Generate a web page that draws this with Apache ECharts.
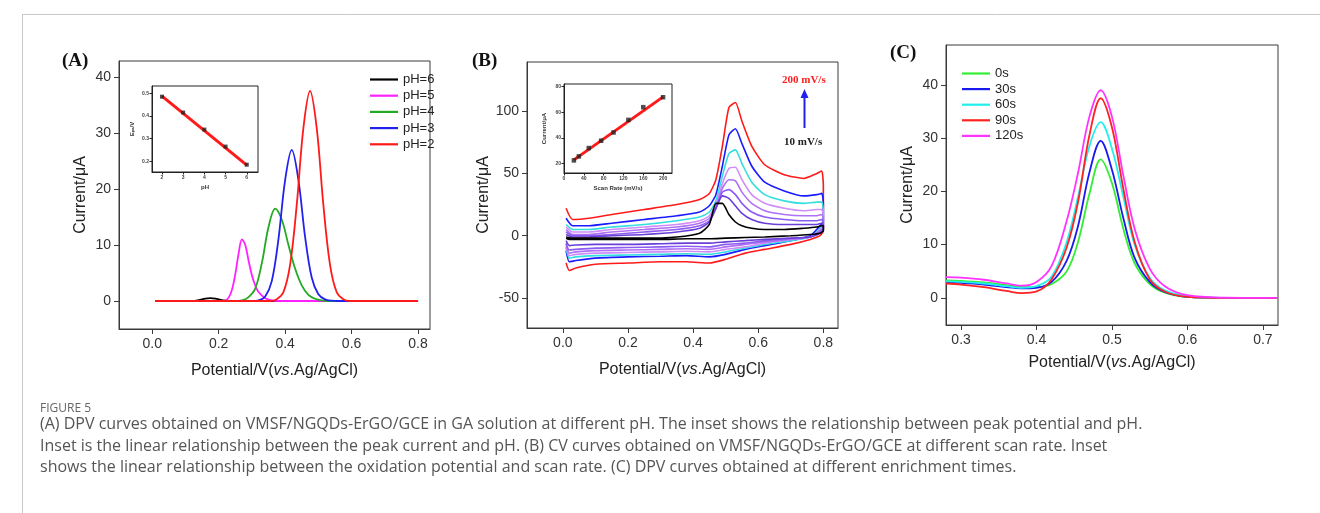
<!DOCTYPE html>
<html><head><meta charset="utf-8">
<script src="https://cdn.jsdelivr.net/npm/echarts@6/dist/echarts.min.js"></script>
<style>html,body{margin:0;padding:0;background:#fff}#c{width:1320px;height:513px}</style>
</head><body><div id="c"></div>
<script>
// ---------- Panel A : DPV at different pH ----------
const phLabels = ['pH=6','pH=5','pH=4','pH=3','pH=2'];
const phColors = ['#000000','#ff22ff','#22aa22','#2222ee','#ff1a1a'];
const dpvPH6 = [[0.01,0],[0.12,0],[0.14,0.15],[0.16,0.42],[0.175,0.5],[0.19,0.42],[0.21,0.15],[0.23,0],[0.8,0]];
const dpvPH5 = [[0.01,0],[0.20,0],[0.22,0.1],[0.23,0.6],[0.24,2.0],[0.25,4.8],[0.26,8.5],[0.27,11],[0.28,10],[0.29,7.2],[0.30,4.6],[0.31,2.8],[0.32,1.6],[0.34,0.5],[0.36,0.1],[0.38,0],[0.8,0]];
const dpvPH4 = [[0.01,0],[0.25,0],[0.27,0.1],[0.29,0.7],[0.31,2.2],[0.33,6.8],[0.35,13.2],[0.37,16.5],[0.39,14.5],[0.41,10],[0.43,5.8],[0.45,2.8],[0.47,1.1],[0.49,0.4],[0.51,0.1],[0.53,0],[0.8,0]];
const dpvPH3 = [[0.01,0],[0.30,0],[0.32,0.1],[0.34,0.8],[0.36,3.6],[0.38,11.1],[0.40,21.6],[0.42,27],[0.44,21.6],[0.46,11.5],[0.48,4.2],[0.50,1.2],[0.52,0.3],[0.54,0.05],[0.56,0],[0.8,0]];
const dpvPH2 = [[0.01,0],[0.355,0],[0.375,0.3],[0.395,1.6],[0.415,6.5],[0.435,17.2],[0.455,30.9],[0.475,37.5],[0.495,30.9],[0.515,17.2],[0.535,6.5],[0.555,1.6],[0.575,0.3],[0.595,0],[0.8,0]];
const insetPH = [2,3,4,5,6];
const insetEpa = [0.485,0.415,0.34,0.265,0.185];
const insetEpaFit = [0.487,0.183];        // fitted line at pH 2 and pH 6

// ---------- Panel B : CV at different scan rates ----------
const cvNames = ['10 mV/s','20 mV/s','50 mV/s','75 mV/s','100 mV/s','130 mV/s','160 mV/s','200 mV/s'];
const cvColors = ['#000000','#6a3fd8','#8d5cf0','#b070f5','#d08cf7','#33dede','#1a1aff','#ff1a1a'];
const cvUpX   = [0.01,0.03,0.08,0.15,0.25,0.35,0.42,0.45,0.47,0.49,0.51,0.53,0.55,0.58,0.62,0.68,0.74,0.78,0.795,0.80];
const cvDownX = [0.80,0.79,0.76,0.70,0.62,0.56,0.50,0.45,0.38,0.30,0.20,0.10,0.04,0.02,0.01];
const cvUp10   = [-1,-2,-2,-2,-2,-1,2,9,26,26,17,11,8,6,5,5,6,7,8,8];
const cvDown10 = [4,2,1,0,-1,-1.5,-2,-2.5,-2.5,-3,-3,-3,-3,-3,-2];
const cvUp20   = [1,-1,-1,0,1,3,6,11,22,32,30,24,18,13,10,9,9,9,10,8];
const cvDown20 = [5,2,-1,-2,-3,-4,-5,-6,-6,-6.5,-7,-7,-7.5,-8,-4];
const cvUp50   = [3,0,0,1,3,5,8,12,22,35,37,33,26,19,15,13,12,12,13,10];
const cvDown50 = [6,3,-1,-2,-4,-6,-7,-9,-8.5,-9,-9.5,-10,-11,-11.5,-6];
const cvUp75   = [5,1,1,3,5,7,10,14,23,38,45,44,35,26,20,17,16,16,17,13];
const cvDown75 = [7,4,-1,-3,-5,-7,-9,-11,-10.5,-11,-11.5,-12,-13,-14,-7];
const cvUp100   = [7,3,3,5,7,9,12,16,25,42,54,55,45,33,26,22,20,21,21,16];
const cvDown100 = [9,5,-1,-3,-6,-9,-11,-13,-12.5,-13,-13.5,-14,-15,-16,-9];
const cvUp130   = [9,5,5,7,9,12,15,19,28,48,66,69,58,43,33,28,26,27,27,20];
const cvDown130 = [10,6,-1,-4,-7,-10,-13,-15,-14.5,-15,-15.5,-16,-17,-18,-10];
const cvUp160   = [14,8,8,10,13,16,19,24,33,56,81,86,74,56,43,36,32,33,34,26];
const cvDown160 = [12,8,0,-4,-8,-11,-15,-17,-16,-16.5,-17,-18,-20,-21,-12];
const cvUp200   = [22,13,14,17,21,25,29,34,45,72,103,107,92,72,57,49,46,50,52,40];
const cvDown200 = [4,0,-3,-7,-11,-14,-19,-22,-21,-21,-22,-23,-26,-28,-22];
const cvUps   = [cvUp10,cvUp20,cvUp50,cvUp75,cvUp100,cvUp130,cvUp160,cvUp200];
const cvDowns = [cvDown10,cvDown20,cvDown50,cvDown75,cvDown100,cvDown130,cvDown160,cvDown200];
const insetRate = [20,30,50,75,100,130,160,200];
const insetIpa  = [22.6,25.7,32.2,37.9,44.3,54.1,64,71.7];
const insetIpaFit = [23,72];               // fitted line at 20 and 200 mV/s

// ---------- Panel C : DPV at different enrichment times ----------
const timeLabels = ['0s','30s','60s','90s','120s'];
const timeColors = ['#33ee33','#1a1aee','#22eeee','#ff2222','#ff33ff'];
const potC = [0.28,0.30,0.33,0.36,0.38,0.40,0.42,0.44,0.455,0.47,0.485,0.50,0.515,0.53,0.55,0.57,0.60,0.65,0.72];
const cur0s   = [3.3,3.2,2.9,2.4,2.1,2.0,2.6,5.0,10.5,19.5,26,21.5,13,6.5,2.6,1.0,0.2,0,0];
const cur30s  = [2.9,2.8,2.5,2.0,1.8,1.9,3.0,7.0,13.5,23.5,29.5,24,15,7.5,3,1.1,0.2,0,0];
const cur60s  = [3.1,3.0,2.7,2.2,1.9,2.2,4.0,10.5,19,28.5,33,28,19,10,3.8,1.4,0.3,0,0];
const cur90s  = [2.7,2.5,2.0,1.3,0.9,1.2,3.5,9.5,18,30.5,37.5,32,20.5,10.5,3.5,1.2,0.2,0,0];
const cur120s = [3.9,3.8,3.4,2.7,2.3,3.0,6.0,14.5,23.5,34,39,34,23,13,5.5,2.2,0.5,0.05,0];
const curC = [cur0s,cur30s,cur60s,cur90s,cur120s];

// ---------- tick labels ----------
const ticksA_x = [0,0.2,0.4,0.6,0.8], ticksA_y = [0,10,20,30,40];
const ticksB_x = [0,0.2,0.4,0.6,0.8], ticksB_y = [-50,0,50,100];
const ticksC_x = [0.3,0.4,0.5,0.6,0.7], ticksC_y = [0,10,20,30,40];
const ticksAi_x = [2,3,4,5,6], ticksAi_y = [0.2,0.3,0.4,0.5];
const ticksBi_x = [0,40,80,120,160,200], ticksBi_y = [20,40,60,80];

const FF = '"Liberation Sans", Arial, sans-serif';
const axisCol = '#3a3a3a';

function mainX(idx, min, max, ticks, nameGap){
  return {gridIndex: idx, type:'value', min, max,
    name:'Potential/V({i|vs}.Ag/AgCl)', nameLocation:'middle', nameGap,
    nameTextStyle:{fontSize:16, color:'#222', fontFamily:FF, rich:{i:{fontStyle:'italic', fontSize:16, color:'#222', fontFamily:FF}}},
    axisLine:{onZero:false, lineStyle:{color:axisCol, width:1}},
    axisTick:{customValues:ticks, inside:false, length:5, lineStyle:{color:axisCol}},
    axisLabel:{customValues:ticks, formatter:v=>v.toFixed(1), fontSize:14, color:'#333', fontFamily:FF, margin:8},
    splitLine:{show:false}};
}
function mainY(idx, min, max, ticks, nameGap){
  return {gridIndex: idx, type:'value', min, max,
    name:'Current/μA', nameLocation:'middle', nameGap,
    nameTextStyle:{fontSize:16, color:'#222', fontFamily:FF},
    axisLine:{show:true, onZero:false, lineStyle:{color:axisCol, width:1}},
    axisTick:{show:true, customValues:ticks, inside:false, length:5, lineStyle:{color:axisCol}},
    axisLabel:{customValues:ticks, formatter:v=>String(v), fontSize:14, color:'#333', fontFamily:FF, margin:8},
    splitLine:{show:false}};
}
function insetAxis(idx, min, max, ticks, fmt, name, isY){
  return {gridIndex: idx, type:'value', min, max,
    name, nameLocation:'middle', nameGap: isY?17:12,
    nameTextStyle:{fontSize:6, fontWeight:'bold', color:'#333', fontFamily:FF, rich:{s:{fontSize:4, fontWeight:'bold', verticalAlign:'bottom', color:'#333'}}},
    axisLine:{show:true, onZero:false, lineStyle:{color:'#222', width:1}},
    axisTick:{show:true, customValues:ticks, inside:false, length:2.5, lineStyle:{color:'#222'}},
    axisLabel:{customValues:ticks, formatter:fmt, fontSize:5, fontWeight:'bold', color:'#444', fontFamily:FF, margin:3},
    splitLine:{show:false}};
}

const series = [];
const dpvA = [dpvPH6,dpvPH5,dpvPH4,dpvPH3,dpvPH2];
dpvA.forEach((d,i)=>series.push({name:phLabels[i], type:'line', xAxisIndex:0, yAxisIndex:0, data:d,
  smooth:0.35, showSymbol:false, lineStyle:{color:phColors[i], width:1.8}, itemStyle:{color:phColors[i]}, z:3+i}));
series.push({type:'line', xAxisIndex:1, yAxisIndex:1, data:[[insetPH[0],insetEpaFit[0]],[insetPH[4],insetEpaFit[1]]],
  showSymbol:false, lineStyle:{color:'#ff1a1a', width:3}, z:5});
series.push({type:'scatter', xAxisIndex:1, yAxisIndex:1, data:insetPH.map((x,i)=>[x,insetEpa[i]]),
  symbol:'rect', symbolSize:4, itemStyle:{color:'#222'}, z:6});

cvUps.forEach((u,i)=>{
  const d = cvUpX.map((x,k)=>[x,u[k]]).concat(cvDownX.map((x,k)=>[x,cvDowns[i][k]]));
  series.push({name:cvNames[i], type:'line', xAxisIndex:2, yAxisIndex:2, data:d, smooth:0.2, showSymbol:false,
    lineStyle:{color:cvColors[i], width:1.6}, z:10-i});
});
series.push({type:'line', xAxisIndex:3, yAxisIndex:3, data:[[insetRate[0],insetIpaFit[0]],[insetRate[7],insetIpaFit[1]]],
  showSymbol:false, lineStyle:{color:'#ff1a1a', width:3}, z:5});
series.push({type:'scatter', xAxisIndex:3, yAxisIndex:3, data:insetRate.map((x,i)=>[x,insetIpa[i]]),
  symbol:'rect', symbolSize:4.5, itemStyle:{color:'#222'}, z:6});

curC.forEach((c,i)=>series.push({name:timeLabels[i], type:'line', xAxisIndex:4, yAxisIndex:4,
  data:potC.map((x,k)=>[x,c[k]]), smooth:0.35, showSymbol:false, lineStyle:{color:timeColors[i], width:1.8},
  itemStyle:{color:timeColors[i]}, z:3+i}));

const legendBase = {orient:'vertical', icon:'rect', itemWidth:28, itemHeight:2.2, padding:0,
  textStyle:{fontSize:13, color:'#222', fontFamily:FF}, selectedMode:false};

const option = {
  animation:false,
  backgroundColor:'#fff',
  grid:[
    {left:119, top:61, width:311, height:268, show:true, borderColor:axisCol, borderWidth:1, backgroundColor:'transparent'},
    {left:152, top:86, width:106, height:86, show:true, borderColor:'#222', borderWidth:1, backgroundColor:'transparent'},
    {left:527, top:62, width:311, height:266, show:true, borderColor:axisCol, borderWidth:1, backgroundColor:'transparent'},
    {left:564, top:84, width:108, height:89, show:true, borderColor:'#222', borderWidth:1, backgroundColor:'transparent'},
    {left:946, top:45, width:332, height:280, show:true, borderColor:axisCol, borderWidth:1, backgroundColor:'transparent'}
  ],
  xAxis:[
    mainX(0,-0.1,0.836,ticksA_x,34),
    insetAxis(1,1.53,6.53,ticksAi_x,v=>String(v),'pH',false),
    mainX(2,-0.11,0.845,ticksB_x,34),
    insetAxis(3,0,218,ticksBi_x,v=>String(v),'Scan Rate (mV/s)',false),
    mainX(4,0.28,0.72,ticksC_x,30)
  ],
  yAxis:[
    mainY(0,-5,42.86,ticksA_y,30),
    insetAxis(1,0.153,0.532,ticksAi_y,v=>v.toFixed(1),'E{s|pa}/V',true),
    mainY(2,-74.2,139.6,ticksB_y,32),
    insetAxis(3,12.8,82,ticksBi_y,v=>String(v),'Current/μA',true),
    mainY(4,-5.1,47.5,ticksC_y,30)
  ],
  legend:[
    Object.assign({}, legendBase, {data:phLabels, left:370, top:73, itemGap:3.2}),
    Object.assign({}, legendBase, {data:timeLabels, left:962, top:67, itemGap:2.6})
  ],
  series,
  graphic:[
    {type:'line', shape:{x1:22,y1:14.5,x2:1320,y2:14.5}, style:{stroke:'#c8c8c8', lineWidth:1}, silent:true},
    {type:'line', shape:{x1:22.5,y1:14,x2:22.5,y2:513}, style:{stroke:'#c8c8c8', lineWidth:1}, silent:true},
    {type:'text', left:62, top:52, style:{text:'(A)', font:'bold 19px "Liberation Serif", "DejaVu Serif", serif', fill:'#111'}},
    {type:'text', left:472, top:52, style:{text:'(B)', font:'bold 19px "Liberation Serif", "DejaVu Serif", serif', fill:'#111'}},
    {type:'text', left:890, top:44, style:{text:'(C)', font:'bold 19px "Liberation Serif", "DejaVu Serif", serif', fill:'#111'}},
    {type:'text', left:782, top:75, style:{text:'200 mV/s', font:'bold 11px "Liberation Serif", serif', fill:'#ff2020'}},
    {type:'text', left:784, top:137, style:{text:'10 mV/s', font:'bold 11px "Liberation Serif", serif', fill:'#222'}},
    {type:'line', shape:{x1:804.5,y1:128,x2:804.5,y2:96}, style:{stroke:'#2020ee', lineWidth:2}},
    {type:'polygon', shape:{points:[[804.5,89],[800.5,98],[808.5,98]]}, style:{fill:'#2020ee'}},
    {type:'text', left:40, top:403, style:{text:'FIGURE 5', font:'12px "Open Sans", sans-serif', fill:'#666'}},
    {type:'text', left:40, top:416, style:{text:'(A) DPV curves obtained on VMSF/NGQDs-ErGO/GCE in GA solution at different pH. The inset shows the relationship between peak potential and pH.', font:'16px "Open Sans", sans-serif', fill:'#555'}},
    {type:'text', left:40, top:438, style:{text:'Inset is the linear relationship between the peak current and pH. (B) CV curves obtained on VMSF/NGQDs-ErGO/GCE at different scan rate. Inset', font:'16px "Open Sans", sans-serif', fill:'#555'}},
    {type:'text', left:40, top:459, style:{text:'shows the linear relationship between the oxidation potential and scan rate. (C) DPV curves obtained at different enrichment times.', font:'16px "Open Sans", sans-serif', fill:'#555'}}
  ]
};
const chart = echarts.init(document.getElementById('c'), null, {renderer:'canvas'});
chart.setOption(option);
</script></body></html>
